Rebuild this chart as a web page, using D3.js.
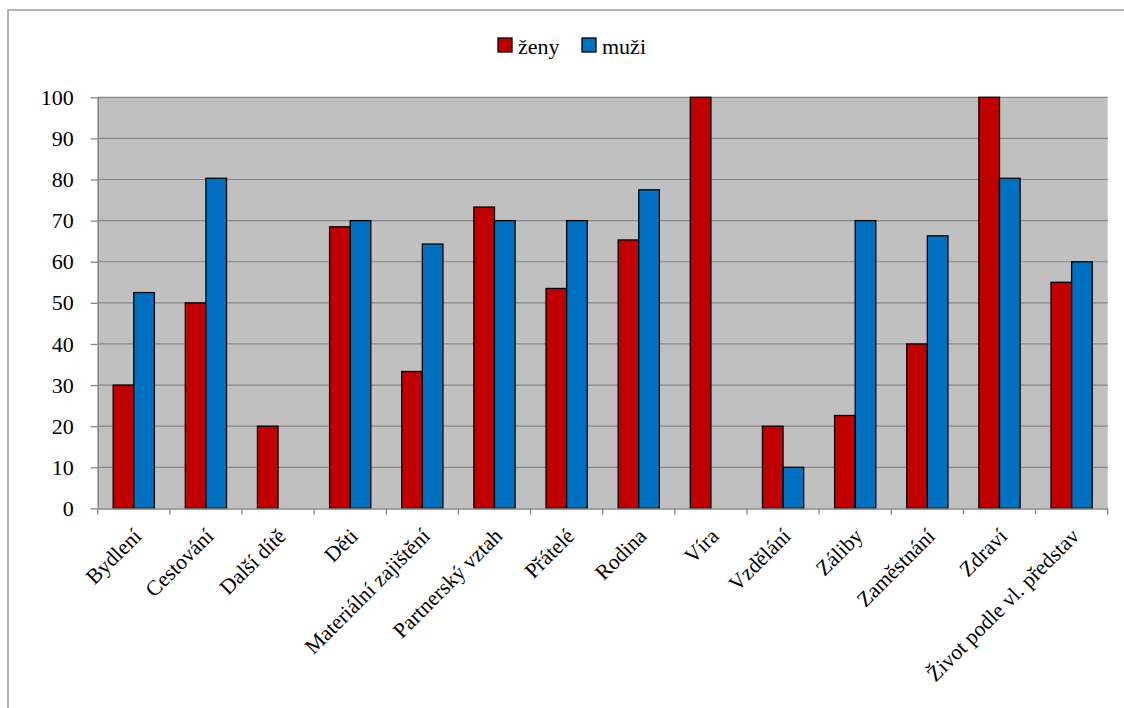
<!DOCTYPE html>
<html><head><meta charset="utf-8">
<script src="https://cdn.jsdelivr.net/npm/d3@7"></script>
<style>body{margin:0;background:#fff;}svg{display:block;} svg text{font-family:"Liberation Serif","Times New Roman","DejaVu Serif",serif !important;}</style>
</head><body>
<svg id="c" width="1124" height="708"></svg>
<script>
const categories = ["Bydlení","Cestování","Další dítě","Děti","Materiální zajištění","Partnerský vztah","Přátelé","Rodina","Víra","Vzdělání","Záliby","Zaměstnání","Zdraví","Život podle vl. představ"];
const zeny = [30,50,20,68.5,33.3,73.3,53.5,65.3,100,20,22.6,40,100,55];
const muzi = [52.5,80.3,0,70,64.3,70,70,77.5,0,10,70,66.3,80.3,60];
const seriesNames = ["ženy","muži"];
const colors = ["#C00000","#0070C0"];
const yTicks = [0,10,20,30,40,50,60,70,80,90,100];

const svg = d3.select("#c");
svg.append("rect").attr("x",8).attr("y",10).attr("width",1130).attr("height",720)
  .attr("fill","#fff").attr("stroke","#9a9a9a").attr("stroke-width",1.5);

const L=97.7,R=1107.7,T=97.3,B=508.4;
const x = d3.scaleBand().domain(categories).range([L,R]).padding(0);
const y = d3.scaleLinear().domain([0,100]).range([B,T]);
const bw = x.bandwidth()/3.5;
const sub = d3.scaleBand().domain(seriesNames).range([x.bandwidth()/2-bw, x.bandwidth()/2+bw]);

svg.append("rect").attr("x",L).attr("y",T).attr("width",R-L).attr("height",B-T).attr("fill","#C0C0C0");
svg.append("g").selectAll("line").data(yTicks.filter(d=>d>0)).join("line")
  .attr("x1",L).attr("x2",R).attr("y1",d=>y(d)).attr("y2",d=>y(d))
  .attr("stroke","#868686").attr("stroke-width",1.2);

const data = categories.map((c,i)=>({c, vals:[zeny[i],muzi[i]]}));
const g = svg.append("g");
data.forEach(d=>{
  d.vals.forEach((v,j)=>{
    if(v<=0) return;
    g.append("rect")
      .attr("x", x(d.c)+sub(seriesNames[j]))
      .attr("y", y(v))
      .attr("width", sub.bandwidth())
      .attr("height", y(0)-y(v))
      .attr("fill", colors[j]).attr("stroke","#000").attr("stroke-width",1.3);
  });
});

const ya = svg.append("g").attr("transform",`translate(${L},0)`)
  .call(d3.axisLeft(y).tickValues(yTicks).tickSize(7).tickPadding(17).tickSizeOuter(0));
ya.select(".domain").attr("stroke","#868686").attr("stroke-width",1.5);
ya.selectAll(".tick line").attr("stroke","#868686").attr("stroke-width",1.3);
ya.selectAll(".tick text").attr("font-size",22).attr("fill","#000");

const xa = svg.append("g").attr("transform",`translate(0,${B})`)
  .call(d3.axisBottom(x).tickSize(0).tickFormat(""));
xa.select(".domain").attr("stroke","#868686").attr("stroke-width",1.5);
const edges = categories.map(c=>x(c)).concat([R]);
xa.append("g").selectAll("line").data(edges).join("line")
  .attr("x1",d=>d).attr("x2",d=>d).attr("y1",0).attr("y2",6)
  .attr("stroke","#868686").attr("stroke-width",1.3);
xa.append("g").selectAll("text").data(categories).join("text")
  .attr("transform",d=>`translate(${x(d)+x.bandwidth()/2+9},${29}) rotate(-45)`)
  .attr("text-anchor","end").attr("font-size",21.5).attr("fill","#000")
  .text(d=>d);

const lg = svg.append("g");
const lx=[498,582];
seriesNames.forEach((n,i)=>{
  lg.append("rect").attr("x",lx[i]).attr("y",38).attr("width",14).attr("height",14)
    .attr("fill",colors[i]).attr("stroke","#000").attr("stroke-width",1.3);
  lg.append("text").attr("x",lx[i]+20).attr("y",54).attr("font-size",22).attr("fill","#000").text(n);
});
</script>
</body></html>
